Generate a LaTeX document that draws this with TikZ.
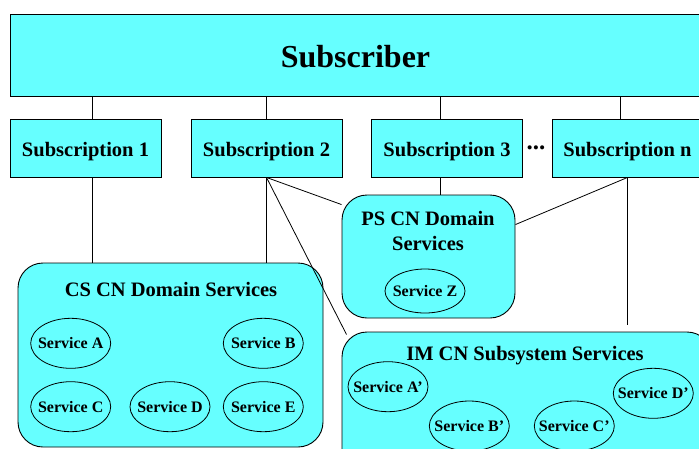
\documentclass[tikz,border=0pt]{standalone}
\usepackage{fontspec}
\setmainfont{Liberation Serif}
\usetikzlibrary{shapes.geometric}
\definecolor{boxcyan}{RGB}{102,255,255}

\begin{document}
\begin{tikzpicture}[x=1pt,y=-1pt,
  box/.style={draw,fill=boxcyan,line width=0.9pt,inner sep=0pt},
  subbox/.style={box,minimum width=151pt,minimum height=58pt,font=\bfseries\fontsize{20.5}{24}\selectfont,text height=16pt,text depth=0pt},
  cnbox/.style={box,rounded corners=25pt},
  cntitle/.style={font=\bfseries\fontsize{20.5}{25}\selectfont,align=center},
  svc/.style={ellipse,draw,line width=0.8pt,minimum width=80pt,minimum height=50pt,inner sep=0pt,
    label={[font=\bfseries\fontsize{16}{18}\selectfont]center:#1}},
  link/.style={line width=0.8pt}]
  % Boundary
  \path[use as bounding box] (0,0) rectangle (699,448);
  \clip (0,0) rectangle (699,448);
  % Subscriber
  \node[box,minimum width=691pt,minimum height=82pt,font=\bfseries\fontsize{32}{38}\selectfont,text height=25pt,text depth=0pt] (subscriber) at (355.5,55) {Subscriber};
  % Subscriptions
  \node[subbox] (subone) at (85.5,148) {Subscription 1};
  \node[subbox] (subtwo) at (266.5,148) {Subscription 2};
  \node[subbox] (subthree) at (447,148) {Subscription 3};
  \node[subbox] (subn) at (627.5,148) {Subscription n};
  \node[font=\bfseries\fontsize{25}{28}\selectfont,inner sep=0pt] (dots) at (536,147.5) {...};
  % Domains
  \node[cnbox,minimum width=305pt,minimum height=184pt] (cs) at (170.5,355) {};
  \node[cnbox,minimum width=173pt,minimum height=123pt] (ps) at (428.5,256.5) {};
  \node[cnbox,minimum width=370pt,minimum height=148pt] (im) at (527,406) {};
  \node[cntitle] (cstitle) at (171,289) {CS CN Domain Services};
  \node[cntitle] (pstitle) at (428,230.5) {PS CN Domain\\Services};
  \node[cntitle] (imtitle) at (525,355.5) {IM CN Subsystem Services};
  % Services
  \node[svc={Service A}] (sva) at (70.7,343.3) {};
  \node[svc={Service B}] (svb) at (263.3,343.3) {};
  \node[svc={Service C}] (svc) at (70.7,406.7) {};
  \node[svc={Service D}] (svd) at (170,406.7) {};
  \node[svc={Service E}] (sve) at (263.3,406.7) {};
  \node[svc={Service Z},minimum height=44pt] (svz) at (425,291) {};
  \node[svc={Service A'}] (svaa) at (388,386.7) {};
  \node[svc={Service B'}] (svbb) at (469.3,426) {};
  \node[svc={Service C'}] (svcc) at (574.3,426) {};
  \node[svc={Service D'}] (svdd) at (653.3,393.3) {};
  % Links
  \coordinate (xone) at (92,0);
  \coordinate (xtwo) at (266.5,0);
  \coordinate (xthree) at (440.5,0);
  \coordinate (xfour) at (620.5,0);
  \coordinate (xn) at (627.5,0);
  \coordinate (nend) at (627.5,325);
  \draw[link] (subscriber.south -| xone) -- (subone.north -| xone);
  \draw[link] (subscriber.south -| xtwo) -- (subtwo.north -| xtwo);
  \draw[link] (subscriber.south -| xthree) -- (subthree.north -| xthree);
  \draw[link] (subscriber.south -| xfour) -- (subn.north -| xfour);
  \draw[link] (subone.south -| xone) -- (cs.north -| xone);
  \draw[link] (subtwo.south -| xtwo) -- (cs.north -| xtwo);
  \draw[link] (subtwo.south -| xtwo) -- ([yshift=-10pt]ps.north west);
  \draw[link] (subtwo.south -| xtwo) -- ([shift={(5,3)}]im.north west);
  \draw[link] (subthree.south -| xthree) -- (ps.north -| xthree);
  \draw[link] (subn.south -| xn) -- ([yshift=-30pt]ps.north east);
  \draw[link] (subn.south -| xn) -- (nend);
\end{tikzpicture}
\end{document}
